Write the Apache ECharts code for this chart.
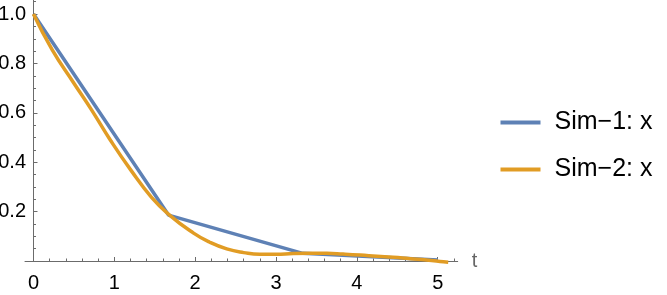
<!DOCTYPE html>
<html>
<head>
<meta charset="utf-8">
<script src="https://cdn.jsdelivr.net/npm/echarts@6/dist/echarts.min.js"></script>
<style>
html,body{margin:0;padding:0;background:#fff;}
#c{width:667px;height:295px;}
</style>
</head>
<body>
<div id="c"></div>
<script>
// ---- data ----
var seriesNames = ['Sim\u22121: x', 'Sim\u22122: x'];
var sim1T = [0, 1.67, 3.33, 5.0];
var sim1X = [1.0, 0.186, 0.031, 0.004];
var sim2T = [0, 0.23, 0.5, 0.72, 0.95, 1.2, 1.46, 1.69, 1.98, 2.18, 2.39, 2.6, 2.8, 3.0, 3.21, 3.42, 3.63, 3.83, 4.04, 4.25, 4.45, 4.66, 4.86, 5.07, 5.13];
var sim2X = [1.0, 0.856, 0.72, 0.611, 0.49, 0.37, 0.258, 0.184, 0.113, 0.076, 0.049, 0.034, 0.027, 0.027, 0.030, 0.031, 0.031, 0.028, 0.024, 0.019, 0.015, 0.009, 0.004, -0.003, -0.005];
var xMajorTicks = [0, 1, 2, 3, 4, 5];
var xMinorTicks = [0.2,0.4,0.6,0.8,1.2,1.4,1.6,1.8,2.2,2.4,2.6,2.8,3.2,3.4,3.6,3.8,4.2,4.4,4.6,4.8,5.2];
var yMajorTicks = [0.2, 0.4, 0.6, 0.8, 1.0];
var yMinorTicks = [0.05,0.1,0.15,0.25,0.3,0.35,0.45,0.5,0.55,0.65,0.7,0.75,0.85,0.9,0.95,1.05];
var xRange = [-0.105, 5.247];
var yRange = [0, 1.057];

function pairs(ts, xs){ return ts.map(function(t,i){ return [t, xs[i]]; }); }

var axisColor = '#6b6b6b';
var font = '"Liberation Sans", Arial, sans-serif';

var chart = echarts.init(document.getElementById('c'), null, {renderer:'canvas'});
chart.setOption({
  animation: false,
  backgroundColor: '#ffffff',
  grid: { left: 25, right: 209.3, top: 0, bottom: 34, containLabel: false, outerBoundsMode: 'none' },
  legend: {
    orient: 'vertical', left: 500.5, top: 110, padding: 0,
    itemWidth: 40, itemHeight: 4, itemGap: 22, icon: 'rect',
    data: seriesNames,
    textStyle: { fontFamily: font, fontSize: 25, color: '#000', padding: [0,0,0,9] }
  },
  xAxis: [{
    type: 'value', min: xRange[0], max: xRange[1], position: 'bottom',
    axisLine: { show: true, onZero: false, lineStyle: { color: axisColor, width: 1 } },
    axisTick: { show: true, inside: true, length: 4, customValues: xMajorTicks, lineStyle: { color: axisColor } },
    axisLabel: { show: true, customValues: xMajorTicks, margin: 12, fontFamily: font, fontSize: 20, color: '#000',
      formatter: function(v){ return String(Math.round(v)); } },
    splitLine: { show: false },
    name: 't', nameLocation: 'end', nameGap: 14,
    nameTextStyle: { fontFamily: font, fontSize: 20, color: '#666' }
  }, {
    type: 'value', min: xRange[0], max: xRange[1], position: 'bottom',
    axisLine: { show: false, onZero: false },
    axisTick: { show: true, inside: true, length: 2.5, customValues: xMinorTicks, lineStyle: { color: axisColor } },
    axisLabel: { show: false },
    splitLine: { show: false }
  }],
  yAxis: [{
    type: 'value', min: yRange[0], max: yRange[1], position: 'left',
    axisLine: { show: true, onZero: true, onZeroAxisIndex: 0, lineStyle: { color: axisColor, width: 1 } },
    axisTick: { show: true, inside: true, length: 4, customValues: yMajorTicks, lineStyle: { color: axisColor } },
    axisLabel: { show: true, customValues: yMajorTicks, margin: -1, fontFamily: font, fontSize: 20, color: '#000',
      formatter: function(v){ return v.toFixed(1); } },
    splitLine: { show: false }
  }, {
    type: 'value', min: yRange[0], max: yRange[1], position: 'left',
    axisLine: { show: false, onZero: true, onZeroAxisIndex: 0 },
    axisTick: { show: true, inside: true, length: 2.5, customValues: yMinorTicks, lineStyle: { color: axisColor } },
    axisLabel: { show: false },
    splitLine: { show: false }
  }],
  series: [{
    name: seriesNames[0], type: 'line', xAxisIndex: 0, yAxisIndex: 0,
    data: pairs(sim1T, sim1X), showSymbol: false, symbol: 'none', clip: false,
    color: '#5E81B5', lineStyle: { color: '#5E81B5', width: 3.5 }, z: 2
  }, {
    name: seriesNames[1], type: 'line', xAxisIndex: 0, yAxisIndex: 0,
    data: pairs(sim2T, sim2X), showSymbol: false, symbol: 'none', clip: false,
    smooth: 0.5,
    color: '#E19C24', lineStyle: { color: '#E19C24', width: 3.5 }, z: 3
  }]
});
</script>
</body>
</html>
